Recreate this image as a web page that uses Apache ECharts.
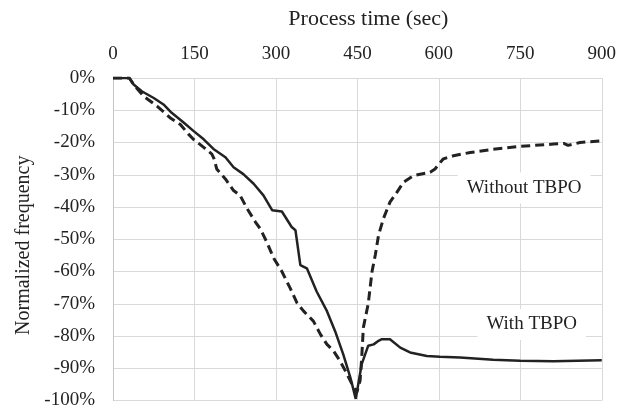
<!DOCTYPE html>
<html>
<head>
<meta charset="utf-8">
<script src="https://cdn.jsdelivr.net/npm/echarts@6/dist/echarts.min.js"></script>
<style>
  html, body { margin: 0; padding: 0; background: #fff; }
  #chart { width: 619px; height: 410px; }
</style>
</head>
<body>
<div id="chart"></div>
<script>
// process time (sec) and normalized frequency (%)
var timeWith = [0, 30, 38, 53, 75, 93, 108, 130, 148, 167, 185, 207, 222, 240, 259, 277, 293, 311, 329, 336, 345, 357, 375, 394, 409, 424, 437, 447, 458, 470, 480, 489, 495, 510, 529, 547, 578, 602, 639, 700, 750, 811, 900];
var freqWith = [0, 0, -2, -4.1, -6.2, -8.2, -10.8, -13.8, -16.4, -19, -22, -24.6, -27.7, -29.8, -32.8, -36.4, -41, -41.4, -46.2, -47.2, -58, -59, -66.2, -72.3, -78.5, -85.7, -92.8, -99.5, -88.7, -83, -82.6, -81.5, -81, -81, -83.6, -85.1, -86.2, -86.4, -86.7, -87.4, -87.7, -87.8, -87.5];

var timeWithout = [0, 30, 38, 56, 81, 105, 124, 139, 148, 167, 182, 186, 191, 207, 222, 234, 247, 262, 271, 283, 296, 311, 326, 339, 351, 369, 382, 394, 406, 418, 431, 440, 449, 455, 458, 461, 470, 477, 483, 489, 498, 510, 523, 535, 553, 584, 593, 608, 627, 658, 700, 750, 811, 830, 838, 860, 900];
var freqWithout = [0, 0, -2, -5.6, -8.7, -12.3, -14.4, -17.4, -19, -21.5, -23.6, -25, -28.2, -31.3, -34.9, -36.4, -40.5, -44.6, -46.7, -50.8, -55.9, -60, -65.1, -69.8, -72.3, -75.4, -79.5, -82.6, -84.6, -87.7, -91.8, -94.9, -97.5, -93.8, -86.7, -77.4, -70, -60, -54.9, -48.7, -43.6, -38.5, -35.4, -32.3, -30.3, -29.2, -28.2, -25.1, -24.1, -23.1, -22.1, -21.2, -20.5, -20.3, -20.9, -20, -19.5];

var seriesNames = ['With TBPO', 'Without TBPO'];
var labelPos = [[771, -76.4], [757, -34.1]];

function pairs(t, v) {
  return t.map(function (x, i) { return [x, v[i]]; });
}

var font = '"Liberation Serif", "Times New Roman", serif';
var ink = '#222';

function noteLabel(i) {
  return {
    symbol: 'rect',
    symbolSize: 1,
    itemStyle: { color: 'rgba(0,0,0,0)' },
    label: {
      show: true,
      position: 'inside',
      formatter: seriesNames[i],
      fontFamily: font,
      fontSize: 19,
      color: ink,
      backgroundColor: '#fff',
      padding: [6, 9]
    },
    data: [{ coord: labelPos[i] }]
  };
}

var myChart = echarts.init(document.getElementById('chart'));
var option = {
  animation: false,
  grid: { left: 113, right: 17, top: 78, bottom: 7 },
  xAxis: {
    type: 'value',
    position: 'top',
    min: 0, max: 900, interval: 150,
    name: 'Process time (sec)',
    nameLocation: 'middle',
    nameGap: 48,
    nameTextStyle: { fontFamily: font, fontSize: 22, color: ink, padding: [0, 0, 0, 22] },
    axisLine: { show: false },
    axisTick: { show: false },
    axisLabel: { fontFamily: font, fontSize: 19, color: ink, margin: 14 },
    splitLine: { lineStyle: { color: '#d9d9d9', width: 1 } }
  },
  yAxis: {
    type: 'value',
    min: -100, max: 0, interval: 10,
    name: 'Normalized frequency',
    nameLocation: 'middle',
    nameRotate: 90,
    nameGap: 79,
    nameTextStyle: { fontFamily: font, fontSize: 20, color: ink, padding: [0, 12, 0, 0] },
    axisLine: { show: true, onZero: false, lineStyle: { color: '#c4c4c4' } },
    axisTick: { show: false },
    axisLabel: { fontFamily: font, fontSize: 19, color: ink, margin: 18, formatter: '{value}%' },
    splitLine: { lineStyle: { color: '#d9d9d9', width: 1 } }
  },
  series: [
    {
      name: seriesNames[0],
      type: 'line',
      data: pairs(timeWith, freqWith),
      showSymbol: false,
      z: 3,
      lineStyle: { color: ink, width: 2.5 },
      markPoint: noteLabel(0)
    },
    {
      name: seriesNames[1],
      type: 'line',
      data: pairs(timeWithout, freqWithout),
      showSymbol: false,
      z: 2,
      lineStyle: { color: ink, width: 3, type: [9, 5] },
      markPoint: noteLabel(1)
    }
  ]
};
myChart.setOption(option);
</script>
</body>
</html>
